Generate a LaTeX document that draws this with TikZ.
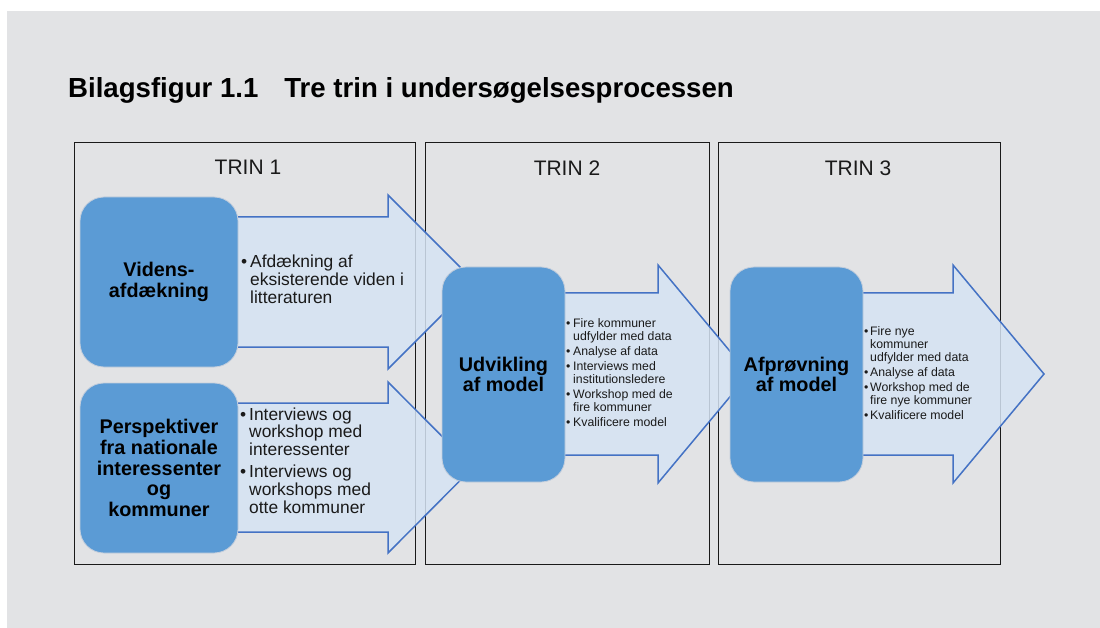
\documentclass[tikz,border=0pt]{standalone}
\usepackage{fontspec}
\setmainfont{Liberation Sans}
\definecolor{panel}{RGB}{226,227,229}
\definecolor{boxblue}{RGB}{91,155,213}
\definecolor{boxedge}{RGB}{196,206,220}
\definecolor{arrowfill}{RGB}{214,227,244}
\definecolor{arrowline}{RGB}{68,114,196}
\definecolor{ink}{RGB}{26,26,26}

% block arrow: tail x, head start x, tip x, centre y, body half height, head half height
\newcommand\blockarrow[6]{%
  \filldraw[flowarrow] ({#1},{#4-#5}) -- ({#2},{#4-#5}) -- ({#2},{#4-#6}) -- ({#3},{#4})
    -- ({#2},{#4+#6}) -- ({#2},{#4+#5}) -- ({#1},{#4+#5}) -- cycle;}
% bullet column of a list
\newcommand\bul[1]{\makebox[#1][l]{\textbullet}}

\begin{document}
\begin{tikzpicture}[x=1pt,y=-1pt,
  heading/.style={anchor=base west, inner sep=0pt, text=black,
    font=\fontsize{27.6}{30}\selectfont\bfseries},
  stage/.style={draw=ink, line width=1.2pt, anchor=north west, inner sep=0pt},
  stagelabel/.style={anchor=base, inner sep=0pt, text=ink,
    font=\fontsize{21}{25}\selectfont},
  flowarrow/.style={fill=arrowfill, fill opacity=0.85, draw=arrowline,
    line width=1.5pt, line join=miter},
  bluebox/.style={fill=boxblue, draw=boxedge, line width=0.8pt,
    rounded corners=24pt, align=center, inner sep=0pt, text=black,
    font=\fontsize{19.8}{20.6}\selectfont\bfseries},
  biglist/.style={anchor=base west, inner sep=0pt, text=ink,
    font=\fontsize{17.4}{17.7}\selectfont},
  smalllist/.style={anchor=base west, inner sep=0pt, text=ink,
    font=\fontsize{12.3}{13}\selectfont}]

\useasboundingbox (0,0) rectangle (1100,628);
\fill[white] (0,0) rectangle (1100,628);
\fill[panel] (7,11) rectangle (1100,628);

\node[heading] (title) at (68,98)
  {Bilagsfigur 1.1\hspace{26pt}Tre trin i undersøgelsesprocessen};

% the three stages
\node[stage, minimum width=341pt, minimum height=422pt] (trin1) at (74,142) {};
\node[stage, minimum width=284pt, minimum height=422pt] (trin2) at (425,142) {};
\node[stage, minimum width=282pt, minimum height=422pt] (trin3) at (718,142) {};
\node[stagelabel] (lab1) at (248,175) {TRIN 1};
\node[stagelabel] (lab2) at (567,176) {TRIN 2};
\node[stagelabel] (lab3) at (858,176) {TRIN 3};

% flow arrows behind the boxes
\blockarrow{160}{388}{475}{282}{65}{87}
\blockarrow{160}{388}{473}{467.5}{64.5}{85.5}
\blockarrow{500}{658}{749}{374}{81}{109}
\blockarrow{800}{953}{1044}{374}{81}{109}

% activity boxes
\node[bluebox, minimum width=158pt, minimum height=170pt] (viden) at (159,282)
  {Videns-\\afdækning};
\node[bluebox, minimum width=158pt, minimum height=170pt] (persp) at (159,468)
  {Perspektiver\\fra nationale\\interessenter\\og\\kommuner};
\node[bluebox, minimum width=123pt, minimum height=215pt] (udv) at (503.5,374.5)
  {Udvikling\\af model};
\node[bluebox, minimum width=133pt, minimum height=215pt] (afp) at (796.5,374.5)
  {Afprøvning\\af model};

% activity lists
\node[biglist] (list1) at (241,268) {%
  \begin{tabular}[t]{@{}l@{}l@{}}
  \bul{9pt} & Afdækning af\\
            & eksisterende viden i\\
            & litteraturen
  \end{tabular}};
\node[biglist] (list2) at (240,420) {%
  \begin{tabular}[t]{@{}l@{}l@{}}
  \bul{9pt} & Interviews og\\
            & workshop med\\
            & interessenter\\[4pt]
  \bul{9pt} & Interviews og\\
            & workshops med\\
            & otte kommuner
  \end{tabular}};
\node[smalllist] (list3) at (566,327) {%
  \begin{tabular}[t]{@{}l@{}l@{}}
  \bul{7pt} & Fire kommuner\\
            & udfylder med data\\[2pt]
  \bul{7pt} & Analyse af data\\[2pt]
  \bul{7pt} & Interviews med\\
            & institutionsledere\\[2pt]
  \bul{7pt} & Workshop med de\\
            & fire kommuner\\[2pt]
  \bul{7pt} & Kvalificere model
  \end{tabular}};
\node[smalllist] (list4) at (864,335) {%
  \begin{tabular}[t]{@{}l@{}l@{}}
  \bul{6pt} & Fire nye\\
            & kommuner\\
            & udfylder med data\\[2pt]
  \bul{6pt} & Analyse af data\\[2pt]
  \bul{6pt} & Workshop med de\\
            & fire nye kommuner\\[2pt]
  \bul{6pt} & Kvalificere model
  \end{tabular}};
\end{tikzpicture}
\end{document}
